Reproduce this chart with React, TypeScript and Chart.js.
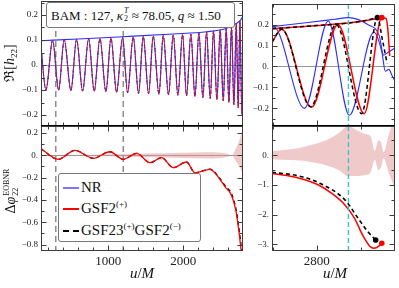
import React, { useEffect, useRef } from 'react';
import { Chart, registerables } from 'chart.js';

Chart.register(...registerables);

// ---------------- data ----------------
const leftXRange = [103, 2797];
const rightXRange = [2749, 2889];

// Top-left: Re[h22] (extrema of the oscillation)
const tlWaveT = [103, 169, 258, 338, 413, 502, 578, 658, 738, 813, 889, 969, 1036, 1111, 1191, 1258, 1333, 1404, 1467, 1538, 1600, 1676, 1733, 1804, 1867, 1929, 1991, 2044, 2102, 2156, 2209, 2262, 2311, 2360, 2404, 2449, 2493, 2533, 2573, 2609, 2644, 2676, 2707, 2733, 2756, 2782, 2797];
const tlWaveNR = [0.07, -0.1, 0.099, -0.1, 0.101, -0.102, 0.103, -0.104, 0.105, -0.105, 0.106, -0.107, 0.108, -0.109, 0.11, -0.111, 0.112, -0.113, 0.114, -0.115, 0.116, -0.117, 0.118, -0.119, 0.12, -0.121, 0.122, -0.123, 0.124, -0.126, 0.128, -0.13, 0.132, -0.134, 0.136, -0.138, 0.14, -0.143, 0.146, -0.15, 0.154, -0.159, 0.165, -0.172, 0.178, -0.2, -0.12];
const tlWaveGSF2 = [0.07, -0.1, 0.099, -0.1, 0.101, -0.102, 0.103, -0.104, 0.105, -0.105, 0.106, -0.107, 0.108, -0.109, 0.11, -0.111, 0.112, -0.113, 0.114, -0.115, 0.116, -0.117, 0.118, -0.119, 0.12, -0.121, 0.122, -0.123, 0.124, -0.126, 0.128, -0.13, 0.132, -0.134, 0.136, -0.138, 0.14, -0.143, 0.146, -0.15, 0.154, -0.159, 0.165, -0.172, 0.178, -0.195, -0.1];
const tlEnvT = [103, 600, 1200, 1867, 2311, 2578, 2711, 2778, 2797];
const tlEnvNR = [0.097, 0.104, 0.113, 0.124, 0.133, 0.147, 0.167, 0.185, 0.2];

// Vertical markers
const alignWindow = [300, 1200];
const cyanMark = [2836];

// Bottom-left: phase difference
const blPhaseT = [103, 333, 556, 800, 1022, 1200, 1378, 1556, 1711, 1867, 2044, 2156, 2356, 2489, 2556, 2644, 2700, 2740, 2770, 2797];
const blPhaseGSF2 = [0.059, -0.036, 0.045, -0.027, 0.032, -0.036, 0.018, -0.066, -0.021, -0.111, -0.06, -0.156, -0.126, -0.215, -0.28, -0.36, -0.49, -0.67, -0.84, -1.0];
const blPhaseGSF23 = [0.059, -0.036, 0.045, -0.027, 0.032, -0.036, 0.018, -0.066, -0.021, -0.111, -0.06, -0.156, -0.124, -0.208, -0.27, -0.345, -0.47, -0.64, -0.8, -0.95];
const blBandT = [600, 1000, 1500, 2000, 2300, 2500, 2600, 2645, 2700, 2750, 2797];
const blBandTop = [0.002, 0.009, 0.016, 0.024, 0.028, 0.024, 0.012, 0.0, 0.06, 0.14, 0.26];
const blBandBot = [-0.002, -0.009, -0.016, -0.024, -0.028, -0.024, -0.012, 0.0, -0.05, -0.1, -0.17];

// Top-right: waveform close to merger
const trNRT = [2749, 2751, 2786, 2813, 2837, 2865, 2874, 2878, 2882, 2886, 2889];
const trNR = [0.185, 0.188, -0.2, 0.217, -0.233, 0.163, 0.07, -0.023, -0.014, -0.047, -0.07];
const trNREnvT = [2749, 2790, 2820, 2836, 2858, 2871, 2876, 2882, 2889];
const trNREnv = [0.19, 0.21, 0.225, 0.233, 0.2, 0.147, 0.054, 0.07, 0.088];
const trGSF2T = [2749, 2760, 2794, 2824, 2854, 2874, 2879, 2881, 2883];
const trGSF2 = [0.116, 0.178, -0.194, 0.2, -0.225, 0.233, 0.228, 0.17, 0.05];
const trGSF2EnvT = [2749, 2800, 2850, 2874];
const trGSF2Env = [0.18, 0.195, 0.215, 0.233];
const trGSF23T = [2749, 2760, 2793, 2822, 2851, 2869, 2875, 2880];
const trGSF23 = [0.116, 0.178, -0.192, 0.2, -0.225, 0.233, 0.12, 0.015];
const trGSF23EnvT = [2749, 2800, 2850, 2869];
const trGSF23Env = [0.18, 0.195, 0.215, 0.233];
const trEndGSF2 = [2874, 0.233];
const trEndGSF23 = [2869, 0.233];

// Bottom-right: phase difference close to merger
const brGSF2T = [2749, 2780, 2802, 2817, 2832, 2843, 2852, 2860, 2865, 2871, 2874];
const brGSF2 = [-0.61, -0.77, -1.0, -1.28, -1.67, -2.12, -2.68, -3.05, -3.13, -3.05, -2.96];
const brGSF23T = [2749, 2780, 2802, 2832, 2847, 2858, 2867];
const brGSF23 = [-0.57, -0.7, -0.92, -1.5, -2.12, -2.57, -2.85];
const brEndGSF2 = [2874, -2.96];
const brEndGSF23 = [2867, -2.85];
const brBandT = [2749, 2770, 2787, 2800, 2813, 2825, 2836, 2845, 2855, 2861, 2866, 2870, 2873, 2876, 2882, 2889];
const brBandTop = [0.14, 0.2, 0.3, 0.4, 0.54, 0.75, 1.0, 0.85, 0.72, 0.65, 0.15, 0.5, 0.45, 0.1, 0.7, 1.3];
const brBandBot = [-0.13, -0.16, -0.19, -0.26, -0.36, -0.5, -0.7, -0.7, -0.66, -0.59, -0.15, -0.5, -0.4, -0.1, -0.6, -1.14];

// Ticks
const leftXMajor = [1000, 2000];
const leftXLabels = ['1000', '2000'];
const leftXMinor = [200, 400, 600, 800, 1200, 1400, 1600, 1800, 2200, 2400, 2600];
const rightXMajor = [2800];
const rightXLabels = ['2800'];
const rightXMinor = [2750, 2850];
const hYMajor = [-0.2, -0.1, 0, 0.1, 0.2];
const hYLabels = ['\u22120.2', '\u22120.1', '0.', '0.1', '0.2'];
const hYMinor = [-0.25, -0.15, -0.05, 0.05, 0.15, 0.25];
const blYMajor = [-0.8, -0.6, -0.4, -0.2, 0, 0.2];
const blYLabels = ['\u22120.8', '\u22120.6', '\u22120.4', '\u22120.2', '0.', '0.2'];
const blYMinor = [-0.7, -0.5, -0.3, -0.1, 0.1];
const brYMajor = [-3, -2, -1, 0];
const brYLabels = ['\u22123.', '\u22122.', '\u22121.', '0.'];
const brYMinor = [-2.5, -1.5, -0.5, 0.5];

// ---------------- styling ----------------
const W = 399;
const H = 288;
const FONT = '"Liberation Serif", "DejaVu Serif", serif';
const BLUE = 'rgb(45,45,255)';
const RED = 'rgb(255,0,0)';
const PINK = 'rgba(226,150,150,0.5)';
const CYAN = 'rgb(70,195,205)';
const GRAY = 'rgb(140,140,140)';

const pts = (xs: number[], ys: number[]) => xs.map((x, i) => ({ x, y: ys[i] }));

function lineDS(xs: number[], ys: number[], color: string, width: number, dash: number[], order: number) {
  return {
    data: pts(xs, ys),
    borderColor: color,
    backgroundColor: color,
    borderWidth: width,
    borderDash: dash,
    pointRadius: 0,
    fill: false,
    cubicInterpolationMode: 'monotone',
    order,
  };
}
function bandDS(xs: number[], top: number[], bot: number[]) {
  return [
    { data: pts(xs, top), borderWidth: 0, borderColor: 'rgba(0,0,0,0)', pointRadius: 0, fill: false, cubicInterpolationMode: 'monotone', order: 30 },
    { data: pts(xs, bot), borderWidth: 0, borderColor: 'rgba(0,0,0,0)', backgroundColor: PINK, pointRadius: 0, fill: '-1', cubicInterpolationMode: 'monotone', order: 30 },
  ];
}
function dotDS(p: number[], color: string) {
  return {
    data: [{ x: p[0], y: p[1] }],
    showLine: false,
    pointRadius: 2.8,
    pointBackgroundColor: color,
    pointBorderWidth: 0,
    borderColor: color,
    order: 0,
  };
}

type VLine = { x: number; color: string; dash: number[]; width: number; over: boolean };
type Deco = {
  xMajor: number[];
  xMinor: number[];
  xLabels?: string[];
  yMajor: number[];
  yMinor: number[];
  yLabels: string[];
  zero: boolean;
  vlines: VLine[];
  thickBottom?: boolean;
};

function makeDeco(d: Deco) {
  const drawV = (chart: any, over: boolean) => {
    const { ctx, chartArea: a, scales } = chart;
    for (const v of d.vlines) {
      if (v.over !== over) continue;
      const x = scales.x.getPixelForValue(v.x);
      ctx.save();
      ctx.strokeStyle = v.color;
      ctx.lineWidth = v.width;
      ctx.setLineDash(v.dash);
      ctx.beginPath();
      ctx.moveTo(x, a.top);
      ctx.lineTo(x, a.bottom);
      ctx.stroke();
      ctx.restore();
    }
  };
  return {
    id: 'deco',
    beforeDatasetsDraw(chart: any) {
      const { ctx, chartArea: a, scales } = chart;
      if (d.zero) {
        const y = Math.round(scales.y.getPixelForValue(0)) + 0.5;
        ctx.save();
        ctx.strokeStyle = 'rgb(120,120,120)';
        ctx.lineWidth = 0.8;
        ctx.beginPath();
        ctx.moveTo(a.left, y);
        ctx.lineTo(a.right, y);
        ctx.stroke();
        ctx.restore();
      }
      drawV(chart, false);
    },
    afterDatasetsDraw(chart: any) {
      const { ctx, chartArea: a, scales } = chart;
      drawV(chart, true);
      ctx.save();
      ctx.strokeStyle = 'rgb(60,60,60)';
      ctx.lineWidth = 1;
      ctx.setLineDash([]);
      const L = a.left + 0.5, R = a.right - 0.5, T = a.top + 0.5, B = a.bottom - 0.5;
      ctx.strokeRect(L, T, R - L, B - T);
      ctx.beginPath();
      const xt = (vals: number[], len: number) => {
        for (const v of vals) {
          const x = Math.round(scales.x.getPixelForValue(v)) + 0.5;
          if (x < a.left + 1 || x > a.right - 1) continue;
          ctx.moveTo(x, B); ctx.lineTo(x, B - len);
          ctx.moveTo(x, T); ctx.lineTo(x, T + len);
        }
      };
      const yt = (vals: number[], len: number) => {
        for (const v of vals) {
          const y = Math.round(scales.y.getPixelForValue(v)) + 0.5;
          if (y < a.top + 1 || y > a.bottom - 1) continue;
          ctx.moveTo(L, y); ctx.lineTo(L + len, y);
          ctx.moveTo(R, y); ctx.lineTo(R - len, y);
        }
      };
      xt(d.xMajor, 5); xt(d.xMinor, 3);
      yt(d.yMajor, 5); yt(d.yMinor, 3);
      ctx.stroke();
      if (d.thickBottom) {
        ctx.strokeStyle = '#000';
        ctx.lineWidth = 1.8;
        ctx.beginPath();
        ctx.moveTo(a.left, a.bottom);
        ctx.lineTo(a.right, a.bottom);
        ctx.stroke();
      }
      ctx.fillStyle = '#222';
      ctx.font = `9px ${FONT}`;
      ctx.textAlign = 'right';
      ctx.textBaseline = 'middle';
      d.yMajor.forEach((v, i) => {
        ctx.fillText(d.yLabels[i], a.left - 3, scales.y.getPixelForValue(v));
      });
      if (d.xLabels) {
        ctx.font = `13px ${FONT}`;
        ctx.textAlign = 'center';
        ctx.textBaseline = 'top';
        d.xMajor.forEach((v, i) => {
          ctx.fillText(d.xLabels![i], scales.x.getPixelForValue(v), a.bottom + 4);
        });
      }
      ctx.restore();
    },
  };
}

type Panel = { area: { l: number; t: number; r: number; b: number }; x: number[]; y: number[]; datasets: any[]; deco: Deco };

const grayLines: VLine[] = alignWindow.map((x) => ({ x, color: GRAY, dash: [6, 4], width: 1.5, over: false }));
const cyanLines: VLine[] = cyanMark.map((x) => ({ x, color: CYAN, dash: [5, 3], width: 1.5, over: true }));

const panels: Panel[] = [
  {
    area: { l: 41, t: 1, r: 243, b: 126 },
    x: leftXRange,
    y: [-0.244, 0.256],
    datasets: [
      lineDS(tlEnvT, tlEnvNR, BLUE, 1.2, [], 4),
      lineDS(tlWaveT, tlWaveGSF2, '#000', 0.8, [3, 3], 6),
      lineDS(tlWaveT, tlWaveNR, BLUE, 1.1, [], 5),
      lineDS(tlWaveT, tlWaveGSF2, RED, 1, [1.5, 1.5], 3),
    ],
    deco: { xMajor: leftXMajor, xMinor: leftXMinor, yMajor: hYMajor, yMinor: hYMinor, yLabels: hYLabels, zero: true, vlines: grayLines, thickBottom: true },
  },
  {
    area: { l: 41, t: 126, r: 243, b: 251 },
    x: leftXRange,
    y: [-0.858, 0.263],
    datasets: [
      ...bandDS(blBandT, blBandTop, blBandBot),
      lineDS(blPhaseT, blPhaseGSF23, '#000', 1.3, [4, 3], 4),
      lineDS(blPhaseT, blPhaseGSF2, RED, 1.3, [], 3),
    ],
    deco: { xMajor: leftXMajor, xMinor: leftXMinor, xLabels: leftXLabels, yMajor: blYMajor, yMinor: blYMinor, yLabels: blYLabels, zero: true, vlines: grayLines },
  },
  {
    area: { l: 272, t: 1, r: 398, b: 126 },
    x: rightXRange,
    y: [-0.284, 0.298],
    datasets: [
      lineDS(trNREnvT, trNREnv, BLUE, 1.1, [], 6),
      lineDS(trNRT, trNR, BLUE, 1.1, [], 5),
      lineDS(trGSF2EnvT, trGSF2Env, RED, 1.5, [], 4),
      lineDS(trGSF2T, trGSF2, RED, 1.5, [], 3),
      lineDS(trGSF23EnvT, trGSF23Env, '#000', 1.5, [4, 3], 2),
      lineDS(trGSF23T, trGSF23, '#000', 1.5, [4, 3], 1),
      dotDS(trEndGSF2, RED),
      dotDS(trEndGSF23, '#000'),
    ],
    deco: { xMajor: rightXMajor, xMinor: rightXMinor, yMajor: hYMajor, yMinor: hYMinor, yLabels: hYLabels, zero: true, vlines: cyanLines, thickBottom: true },
  },
  {
    area: { l: 272, t: 126, r: 398, b: 251 },
    x: rightXRange,
    y: [-3.222, 0.987],
    datasets: [
      ...bandDS(brBandT, brBandTop, brBandBot),
      lineDS(brGSF2T, brGSF2, RED, 1.5, [], 3),
      lineDS(brGSF23T, brGSF23, '#000', 1.6, [4, 3], 2),
      dotDS(brEndGSF2, RED),
      dotDS(brEndGSF23, '#000'),
    ],
    deco: { xMajor: rightXMajor, xMinor: rightXMinor, xLabels: rightXLabels, yMajor: brYMajor, yMinor: brYMinor, yLabels: brYLabels, zero: false, vlines: cyanLines },
  },
];

const txt: React.CSSProperties = { position: 'absolute', fontFamily: FONT, color: '#111', whiteSpace: 'nowrap', lineHeight: 1 };

export default function App() {
  const refs = useRef<(HTMLCanvasElement | null)[]>([]);

  useEffect(() => {
    const charts = panels.map((p, i) => {
      const c = refs.current[i]!;
      return new Chart(c, {
        type: 'line',
        data: { datasets: p.datasets },
        options: {
          animation: false,
          responsive: false,
          maintainAspectRatio: false,
          events: [],
          layout: { padding: { left: p.area.l, top: p.area.t, right: W - p.area.r, bottom: H - p.area.b } },
          plugins: { legend: { display: false }, tooltip: { enabled: false } },
          scales: {
            x: { type: 'linear', min: p.x[0], max: p.x[1], display: false },
            y: { type: 'linear', min: p.y[0], max: p.y[1], display: false },
          },
          elements: { point: { radius: 0 } },
        } as any,
        plugins: [makeDeco(p.deco)],
      } as any);
    });
    return () => charts.forEach((c) => c.destroy());
  }, []);

  const solidSample = (color: string, h: number, top: number): React.CSSProperties => ({
    position: 'absolute', left: 4, top, width: 16, height: h, background: color,
  });

  return (
    <div style={{ position: 'fixed', left: 0, top: 0, width: W, height: H, background: '#fff', overflow: 'hidden' }}>
      {panels.map((_, i) => (
        <canvas
          key={i}
          ref={(el) => { refs.current[i] = el; }}
          width={W}
          height={H}
          style={{ position: 'absolute', left: 0, top: 0, width: W, height: H }}
        />
      ))}

      {/* annotation */}
      <div style={{ ...txt, left: 46, top: 2, width: 189, height: 26, border: '1px solid #777', borderRadius: 3, background: '#fff', boxSizing: 'border-box', fontSize: 13, display: 'flex', alignItems: 'center', paddingLeft: 4 }}>
        <span>BAM : 127,&nbsp;</span>
        <i>κ</i>
        <span style={{ display: 'inline-flex', flexDirection: 'column', fontSize: 8, lineHeight: '8px', marginLeft: 1 }}>
          <i>T</i>
          <span>2</span>
        </span>
        <span>&nbsp;≈ 78.05,&nbsp;</span>
        <i>q</i>
        <span>&nbsp;≈ 1.50</span>
      </div>

      {/* legend */}
      <div style={{ position: 'absolute', left: 58, top: 173, width: 143, height: 69, border: '1px solid #777', borderRadius: 3, background: '#fff', boxSizing: 'border-box' }}>
        <div style={solidSample('rgb(120,120,255)', 2, 13)} />
        <div style={{ ...txt, left: 22, top: 6, fontSize: 15 }}>NR</div>
        <div style={solidSample(RED, 2, 34)} />
        <div style={{ ...txt, left: 22, top: 27, fontSize: 15 }}>
          GSF2<span style={{ fontSize: 9, position: 'relative', top: -6 }}>(+)</span>
        </div>
        <div style={{ position: 'absolute', left: 4, top: 56, width: 16, height: 0, borderTop: '2px dashed #000' }} />
        <div style={{ ...txt, left: 22, top: 49, fontSize: 15 }}>
          GSF23<span style={{ fontSize: 9, position: 'relative', top: -6 }}>(+)</span>GSF2<span style={{ fontSize: 9, position: 'relative', top: -6 }}>(−)</span>
        </div>
      </div>

      {/* y titles */}
      <div style={{ ...txt, left: 10, top: 63, fontSize: 14, transform: 'translate(-50%, -50%) rotate(-90deg)' }}>
        ℜ[<i>h</i><span style={{ fontSize: 9, position: 'relative', top: 3 }}>22</span>]
      </div>
      <div style={{ ...txt, left: 11, top: 191, fontSize: 14, transform: 'translate(-50%, -50%) rotate(-90deg)', display: 'flex', alignItems: 'center' }}>
        <span>Δ<i>φ</i></span>
        <span style={{ display: 'inline-flex', flexDirection: 'column', fontSize: 8, lineHeight: '9px', marginLeft: 1 }}>
          <span>EOBNR</span>
          <span>22</span>
        </span>
      </div>

      {/* x titles */}
      <div style={{ ...txt, left: 142, top: 273, fontSize: 15, transform: 'translate(-50%, -50%)' }}>
        <i>u</i>/<i>M</i>
      </div>
      <div style={{ ...txt, left: 335, top: 273, fontSize: 15, transform: 'translate(-50%, -50%)' }}>
        <i>u</i>/<i>M</i>
      </div>
    </div>
  );
}
